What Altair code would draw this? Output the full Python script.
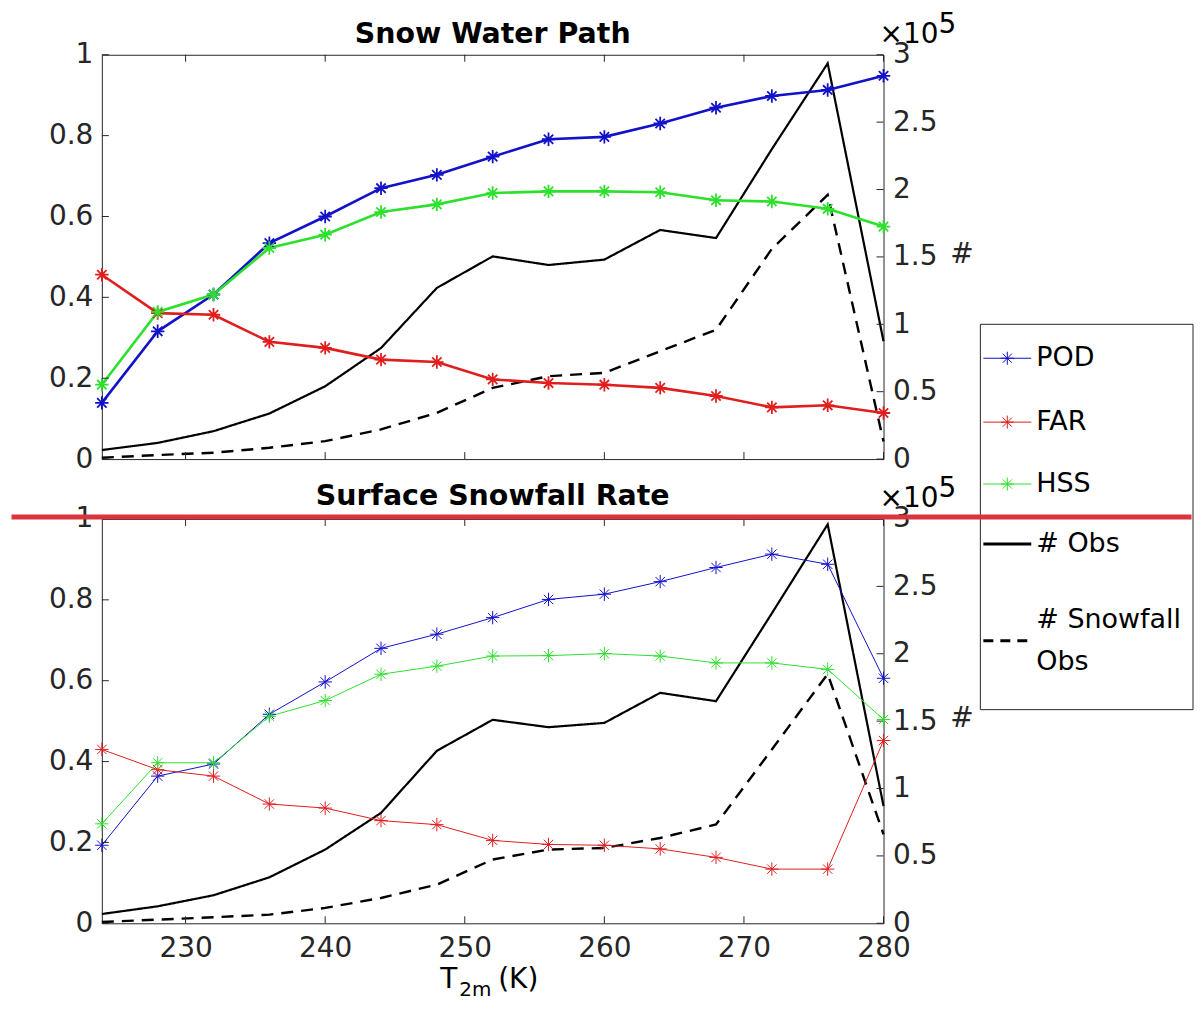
import altair as alt
import pandas as pd

# ---------------- data ----------------
T = [224, 228, 232, 236, 240, 244, 248, 252, 256, 260, 264, 268, 272, 276, 280]

# Snow Water Path panel
POD_SWP = [0.139, 0.316, 0.407, 0.534, 0.600, 0.670, 0.703, 0.748, 0.791, 0.797, 0.830, 0.869, 0.898, 0.913, 0.948]
FAR_SWP = [0.456, 0.361, 0.357, 0.290, 0.275, 0.246, 0.240, 0.197, 0.188, 0.184, 0.176, 0.156, 0.128, 0.133, 0.114]
HSS_SWP = [0.184, 0.364, 0.407, 0.522, 0.555, 0.611, 0.630, 0.658, 0.662, 0.662, 0.660, 0.640, 0.637, 0.619, 0.575]
OBS_SWP = [6700, 12000, 20700, 33800, 54000, 82400, 127000, 150400, 144000, 148000, 170000, 164000, 230000, 293600, 87400]
SNOW_SWP = [1000, 3000, 4700, 8400, 13300, 22000, 34300, 52800, 61500, 64000, 80000, 96000, 156000, 196000, 13000]

# Surface Snowfall Rate panel
POD_SSR = [0.193, 0.364, 0.394, 0.517, 0.597, 0.680, 0.715, 0.756, 0.801, 0.814, 0.845, 0.880, 0.913, 0.888, 0.606]
FAR_SSR = [0.430, 0.380, 0.364, 0.295, 0.285, 0.254, 0.244, 0.205, 0.195, 0.193, 0.184, 0.163, 0.134, 0.134, 0.452]
HSS_SSR = [0.246, 0.397, 0.397, 0.512, 0.551, 0.616, 0.636, 0.661, 0.662, 0.667, 0.661, 0.644, 0.644, 0.628, 0.504]
OBS_SSR = [6900, 12600, 20800, 34100, 54700, 81900, 128000, 151000, 145500, 148700, 171000, 164800, 230000, 296000, 87000]
SNOW_SSR = [1000, 2700, 4500, 6400, 11400, 18800, 28700, 47300, 54700, 55900, 63300, 73300, 129000, 185000, 66000]

METRICS = ["POD", "FAR", "HSS"]
COUNT_SERIES = ["# Obs", "# Snowfall Obs"]
LEGEND_LABELS = ["POD", "FAR", "HSS", "# Obs", "# Snowfall\nObs"]
PANEL_TITLES = ["Snow Water Path", "Surface Snowfall Rate"]
X_TICKS = [230, 240, 250, 260, 270, 280]
LEFT_TICKS = [0, 0.2, 0.4, 0.6, 0.8, 1]
RIGHT_TICKS = [0, 50000, 100000, 150000, 200000, 250000, 300000]

# ---------------- style ----------------
FONT = "DejaVu Sans"
INK = "#262626"
COLORS = ["#1212c8", "#e01e1e", "#2ee02e"]
STAR = "M-1,0L1,0M0,-1L0,1M-0.7,-0.7L0.7,0.7M-0.7,0.7L0.7,-0.7"
W, H = 783, 405
TICK = 7

x_scale = alt.Scale(domain=[224, 280], nice=False, zero=False)
yl_scale = alt.Scale(domain=[0, 1], nice=False, zero=False)
yr_scale = alt.Scale(domain=[0, 300000], nice=False, zero=False)


def one(label="x"):
    return pd.DataFrame({"t": [label]})


def text_at(text, x, y, size=28, weight="normal", align="left", baseline="alphabetic"):
    return alt.Chart(one(text)).mark_text(
        font=FONT, fontSize=size, fontWeight=weight, align=align, baseline=baseline,
        color="black", lineBreak="\n", lineHeight=42,
    ).encode(x=alt.value(x), y=alt.value(y), text="t:N")


def legend_layers():
    box = (880, 1093, 270, 656)
    sample_y = [304, 368, 430, 490, 587]
    text_y = [304, 368, 430, 490, 566]
    styles = [
        (COLORS[0], 1, None, True),
        (COLORS[1], 1, None, True),
        (COLORS[2], 1, None, True),
        ("black", 3, None, False),
        ("black", 3, [10, 7], False),
    ]
    layers = [
        alt.Chart(one()).mark_rect(fill="white", stroke=INK, strokeWidth=1).encode(
            x=alt.value(box[0]), x2=alt.value(box[1]), y=alt.value(box[2]), y2=alt.value(box[3])
        )
    ]
    for label, y, ty, (col, sw, dash, star) in zip(LEGEND_LABELS, sample_y, text_y, styles):
        kw = dict(color=col, strokeWidth=sw)
        if dash:
            kw["strokeDash"] = dash
        layers.append(
            alt.Chart(one(label)).mark_rule(**kw).encode(
                x=alt.value(883), x2=alt.value(931), y=alt.value(y)
            )
        )
        if star:
            layers.append(
                alt.Chart(one(label)).mark_point(
                    shape=STAR, filled=False, size=170, strokeWidth=1, color=col, opacity=1
                ).encode(x=alt.value(907), y=alt.value(y))
            )
        layers.append(text_at(label, 936, ty, size=27, baseline="middle"))
    return layers


def panel(title, title_y, pod, far, hss, obs, snow, metric_w, star_w, count_w,
          x_labels, extras):
    if x_labels:
        x_axis = alt.Axis(values=X_TICKS, title=None, labelPadding=11, labelFlush=False,
                          labelOverlap=False, format="d")
    else:
        x_axis = None

    def X(field):
        return alt.X(field, type="quantitative", scale=x_scale, axis=x_axis)

    yl_axis = alt.Axis(orient="left", values=LEFT_TICKS, format="~g", title=None,
                       labelPadding=9, labelOverlap=False)
    yr_axis = alt.Axis(orient="right", values=RIGHT_TICKS,
                       labelExpr="format(datum.value / 100000, '~g')",
                       title="#", titleAngle=0, titleX=78, titleY=200,
                       titleAlign="center", titleBaseline="middle",
                       titleFontSize=28, titleFontWeight="normal",
                       labelPadding=9, labelOverlap=False)

    # ---- right (count) layer ----
    cdf = pd.DataFrame({
        "T": T * 2,
        "c": obs + snow,
        "s": [s for s in COUNT_SERIES for _ in T],
    })
    yr = alt.Y("c:Q", scale=yr_scale, axis=yr_axis)
    clines = alt.Chart(cdf).mark_line(color="black").encode(
        x=X("T"), y=yr,
        strokeDash=alt.StrokeDash("s:N", scale=alt.Scale(domain=COUNT_SERIES, range=[[1, 0], [12, 8]]), legend=None),
        strokeWidth=alt.StrokeWidth("s:N", scale=alt.Scale(domain=COUNT_SERIES, range=count_w), legend=None),
        detail="s:N",
    )
    rticks = alt.Chart(pd.DataFrame({"c": RIGHT_TICKS})).mark_rule(color=INK, strokeWidth=1).encode(
        y=yr, x=alt.value(W - TICK), x2=alt.value(W)
    )
    right = alt.layer(clines, rticks)

    # ---- left (metric) layer ----
    mdf = pd.DataFrame({
        "T": T * 3,
        "v": pod + far + hss,
        "m": [m for m in METRICS for _ in T],
    })
    yl = alt.Y("v:Q", scale=yl_scale, axis=yl_axis)
    color = alt.Color("m:N", scale=alt.Scale(domain=METRICS, range=COLORS), legend=None)
    mlines = alt.Chart(mdf).mark_line(strokeWidth=metric_w).encode(x=X("T"), y=yl, color=color)
    mpoints = alt.Chart(mdf).mark_point(
        shape=STAR, filled=False, size=180, strokeWidth=star_w, opacity=1
    ).encode(x=X("T"), y=yl, color=color)
    lticks = alt.Chart(pd.DataFrame({"v": LEFT_TICKS})).mark_rule(color=INK, strokeWidth=1).encode(
        y=yl, x=alt.value(0), x2=alt.value(TICK)
    )
    xdf = pd.DataFrame({"T": X_TICKS})
    xt_bot = alt.Chart(xdf).mark_rule(color=INK, strokeWidth=1).encode(
        x=X("T"), y=alt.value(H - TICK), y2=alt.value(H)
    )
    xt_top = alt.Chart(xdf).mark_rule(color=INK, strokeWidth=1).encode(
        x=X("T"), y=alt.value(0), y2=alt.value(TICK)
    )
    title_txt = text_at(title, W / 2, title_y, size=28.5, weight="bold", align="center")
    exp1 = text_at("×10", W - 4, -12, size=28)
    exp2 = text_at("5", W + 55, -22, size=28)

    left = alt.layer(mlines, mpoints, lticks, xt_bot, xt_top, title_txt, exp1, exp2, *extras)

    return alt.layer(right, left).resolve_scale(y="independent").properties(width=W, height=H)


# anchor fixing the top-left corner of the drawing
anchor = alt.Chart(one()).mark_rule(opacity=0, strokeOpacity=0).encode(
    x=alt.value(-93), x2=alt.value(-93), y=alt.value(-45), y2=alt.value(-45)
)

top = panel(PANEL_TITLES[0], -12, POD_SWP, FAR_SWP, HSS_SWP, OBS_SWP, SNOW_SWP,
            metric_w=2.6, star_w=1.8, count_w=[2.2, 2.4], x_labels=False,
            extras=[anchor] + legend_layers())

red_line = alt.Chart(one()).mark_rule(color="#d9353d", strokeWidth=5).encode(
    x=alt.value(-90.5), x2=alt.value(1091.5), y=alt.value(-2)
)
xlabel = [
    text_at("T", 339, 470, size=28),
    text_at("2m", 358, 478, size=20),
    text_at("(K)", 397, 470, size=28),
]
bottom = panel(PANEL_TITLES[1], -14, POD_SSR, FAR_SSR, HSS_SSR, OBS_SSR, SNOW_SSR,
               metric_w=1, star_w=1, count_w=[3.2, 3.2], x_labels=True,
               extras=xlabel + [red_line])

chart = alt.vconcat(top, bottom, spacing=60, bounds="flush").properties(
    padding={"left": 0, "top": 0, "right": 0, "bottom": 0}
).configure(font=FONT).configure_view(
    stroke=INK, strokeWidth=1
).configure_axis(
    labelFont=FONT, titleFont=FONT, labelFontSize=28, labelColor=INK, titleColor=INK,
    grid=False, ticks=False, tickSize=0, domain=False,
)

chart.save("out.html", embed_options={"renderer": "svg", "actions": False})
